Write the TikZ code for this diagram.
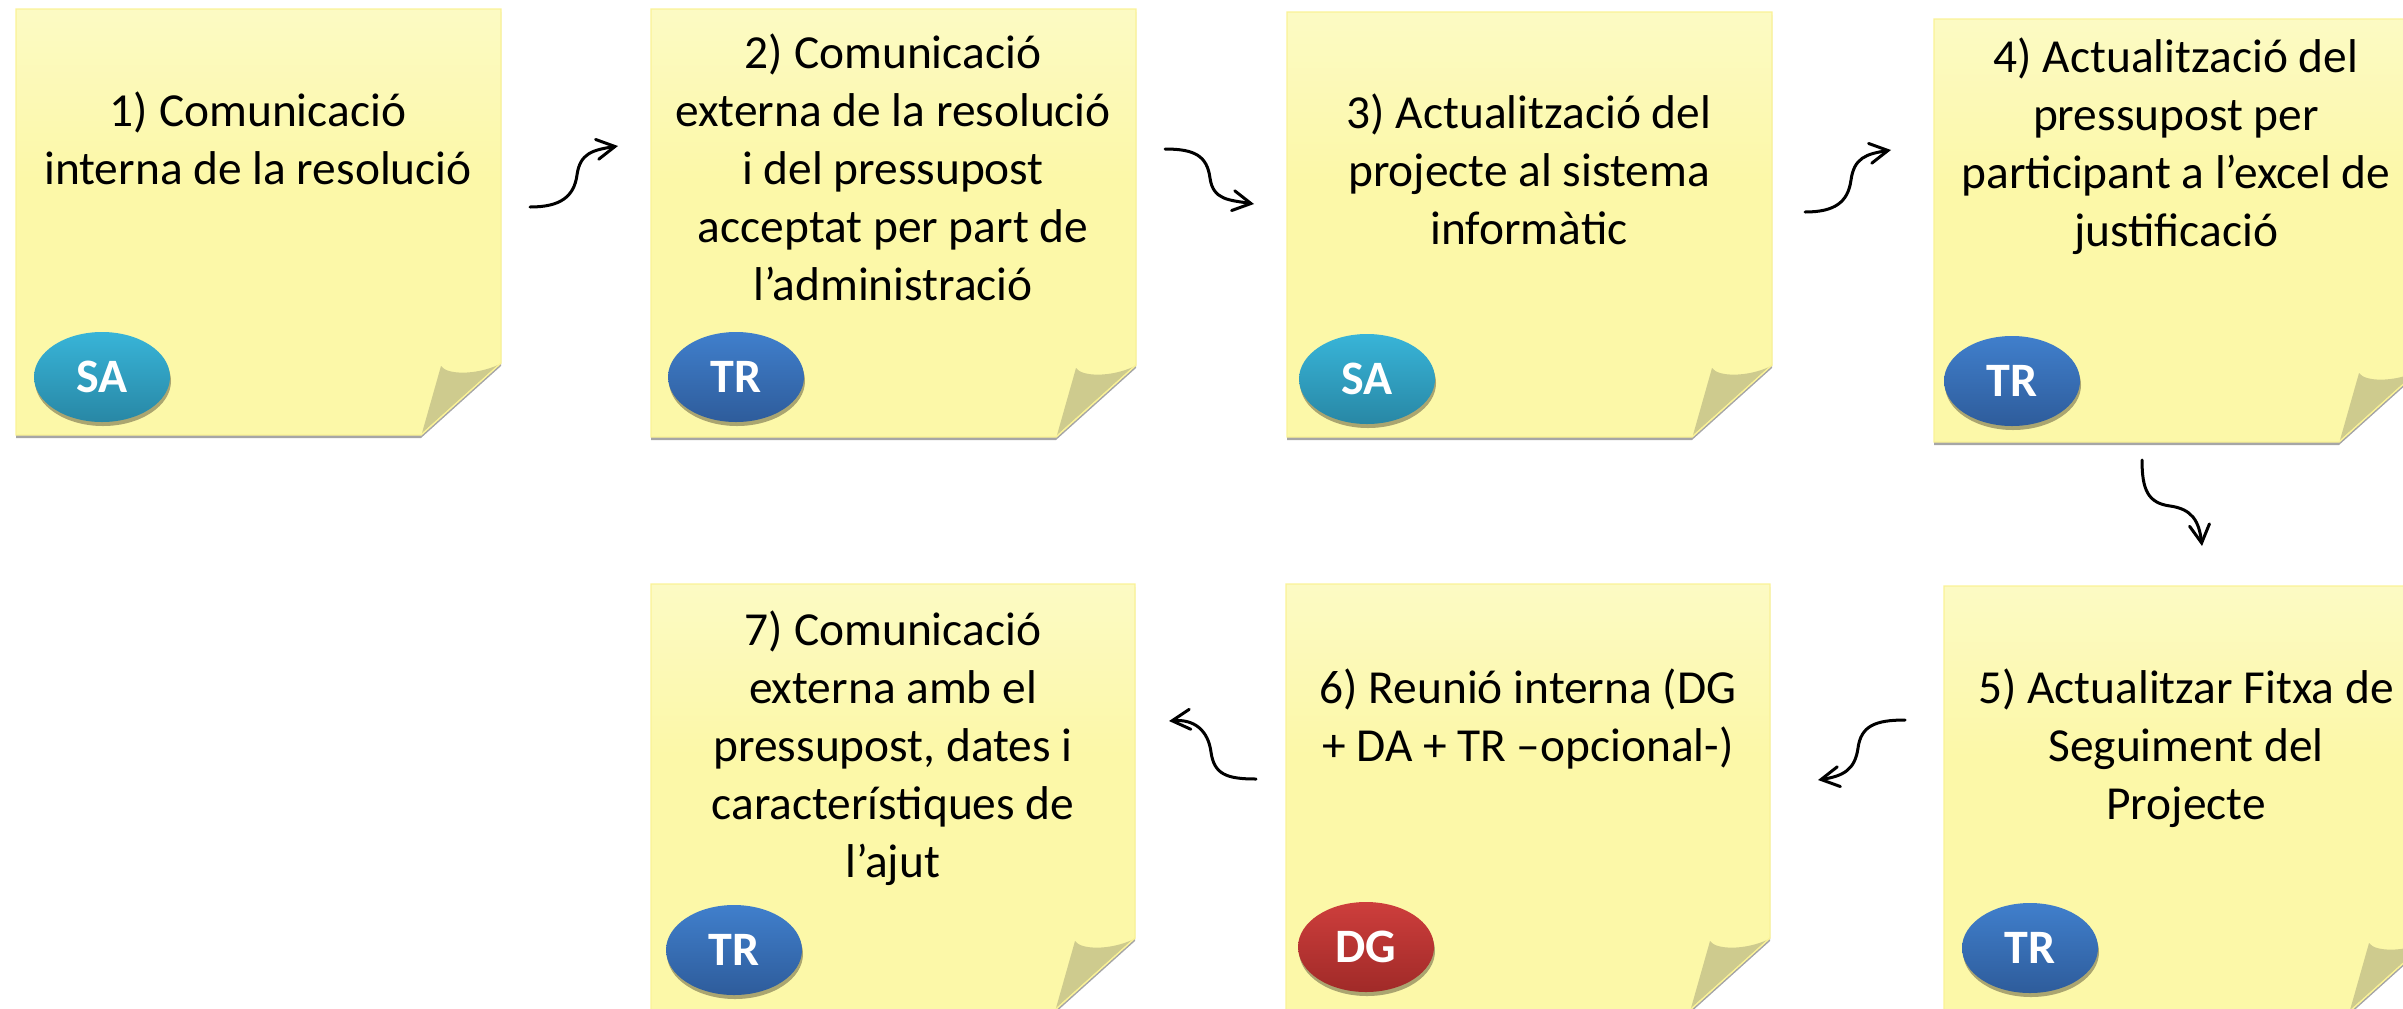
\documentclass[tikz,border=0pt]{standalone}
\usepackage{fontspec}
\setmainfont{Carlito}
\usetikzlibrary{arrows.meta,shapes.geometric,shadows}

\definecolor{notetop}{RGB}{252,253,230}
\definecolor{notebot}{RGB}{252,248,168}
\definecolor{noteline}{RGB}{250,242,150}
\definecolor{notedrop}{RGB}{166,166,166}
\definecolor{foldcol}{RGB}{206,203,142}
\definecolor{badgedrop}{RGB}{170,165,112}
\definecolor{SAtop}{RGB}{56,180,216}
\definecolor{SAbot}{RGB}{40,135,165}
\definecolor{TRtop}{RGB}{64,127,204}
\definecolor{TRbot}{RGB}{46,92,155}
\definecolor{DGtop}{RGB}{205,62,60}
\definecolor{DGbot}{RGB}{160,42,40}

\pgfdeclareverticalshading{notefill}{100bp}{color(0bp)=(notebot); color(55bp)=(notebot); color(100bp)=(notetop)}

\tikzset{
  note/.style={draw=noteline, line width=0.6pt, shading=notefill},
  notetext/.style={anchor=north, align=center, inner sep=0pt},
  badge/.style={ellipse, minimum width=68pt, minimum height=45pt, inner sep=0pt,
    top color=#1top, bottom color=#1bot, text=white, font=\fontsize{24}{29}\selectfont\bfseries,
    drop shadow={shadow xshift=0.5pt, shadow yshift=-2pt, fill=badgedrop, opacity=1}},
  flow/.style={line width=1.5pt, line cap=round, -{Straight Barb[length=9pt,width=10pt,line cap=round]}}
}

% sticky note: left, top, right, bottom (px)
\newcommand{\notepaper}[4]{%
  \fill[notedrop] (#1,#2+3) -- (#3,#2+3) -- (#3,#4-72+3) -- (#3-80,#4+3) -- (#1,#4+3) -- cycle;
  \path[note] (#1,#2) -- (#3,#2) -- (#3,#4-72) -- (#3-80,#4) -- (#1,#4) -- cycle;
  \fill[foldcol] (#3-79,#4-2) -- (#3-60,#4-69) .. controls (#3-54,#4-60) and (#3-25,#4-60) .. (#3-3,#4-70) -- cycle;
  \draw[noteline, line width=0.6pt] (#3,#4-72) -- (#3-80,#4);
}

\begin{document}
\begin{tikzpicture}[x=0.5pt, y=-0.5pt, font=\fontsize{23.7}{29}\selectfont]
  \useasboundingbox (0,0) rectangle (2403,1008);
  \clip (0,0) rectangle (2403,1008);

  \foreach \l/\t/\r/\b in {16/9/501/435, 651/9/1136/437, 1287/12/1772/437, 1934/19/2419/442,
                           1944/586/2429/1012, 1286/584/1770/1010, 651/584/1135/1010}{
    \notepaper{\l}{\t}{\r}{\b}
  }

  \node[notetext] (t1) at (258,91) {1) Comunicació\\interna de la resolució};
  \node[notetext] (t2) at (893,33) {2) Comunicació\\externa de la resolució\\i del pressupost\\acceptat per part de\\l’administració};
  \node[notetext] (t3) at (1529,93) {3) Actualització del\\projecte al sistema\\informàtic};
  \node[notetext] (t4) at (2176,37) {4) Actualització del\\pressupost per\\participant a l’excel de\\justificació};
  \node[notetext] (t5) at (2186,668) {5) Actualitzar Fitxa de\\Seguiment del\\Projecte};
  \node[notetext] (t6) at (1528,668) {6) Reunió interna (DG\\+ DA + TR –opcional-)};
  \node[notetext] (t7) at (893,610) {7) Comunicació\\externa amb el\\pressupost, dates i\\característiques de\\l’ajut};

  \foreach \n/\x/\y/\who in {1/102/377/SA, 2/736/377/TR, 3/1367/379/SA, 4/2012/381/TR,
                             5/2030/948/TR, 6/1366/947/DG, 7/734/950/TR}{
    \node[badge=\who] (b\n) at (\x,\y) {\who};
  }

  \coordinate (s12) at (530,207);  \coordinate (m12) at (577,175);  \coordinate (e12) at (618,146);
  \coordinate (s23) at (1165,149); \coordinate (m23) at (1210,178); \coordinate (e23) at (1254,204);
  \coordinate (s34) at (1805,212); \coordinate (m34) at (1851,180); \coordinate (e34) at (1891,150);
  \coordinate (s45) at (2142,460); \coordinate (m45) at (2170,506); \coordinate (e45) at (2202,546);
  \coordinate (s56) at (1905,720); \coordinate (m56) at (1858,748); \coordinate (e56) at (1818,780);
  \coordinate (s67) at (1256,779); \coordinate (m67) at (1211,752); \coordinate (e67) at (1169,721);

  \draw[flow] (s12) .. controls +(30,0) and +(-3,22) .. (m12) .. controls +(3,-22) and +(-25,4) .. (e12);
  \draw[flow] (s23) .. controls +(30,0) and +(-3,-22) .. (m23) .. controls +(3,22) and +(-25,-4) .. (e23);
  \draw[flow] (s34) .. controls +(30,0) and +(-3,22) .. (m34) .. controls +(3,-22) and +(-25,4) .. (e34);
  \draw[flow] (s45) .. controls +(0,30) and +(-22,-3) .. (m45) .. controls +(22,3) and +(-3,-25) .. (e45);
  \draw[flow] (s56) .. controls +(-30,0) and +(3,-22) .. (m56) .. controls +(-3,22) and +(25,-4) .. (e56);
  \draw[flow] (s67) .. controls +(-30,0) and +(3,22) .. (m67) .. controls +(-3,-22) and +(25,-2) .. (e67);
\end{tikzpicture}
\end{document}
